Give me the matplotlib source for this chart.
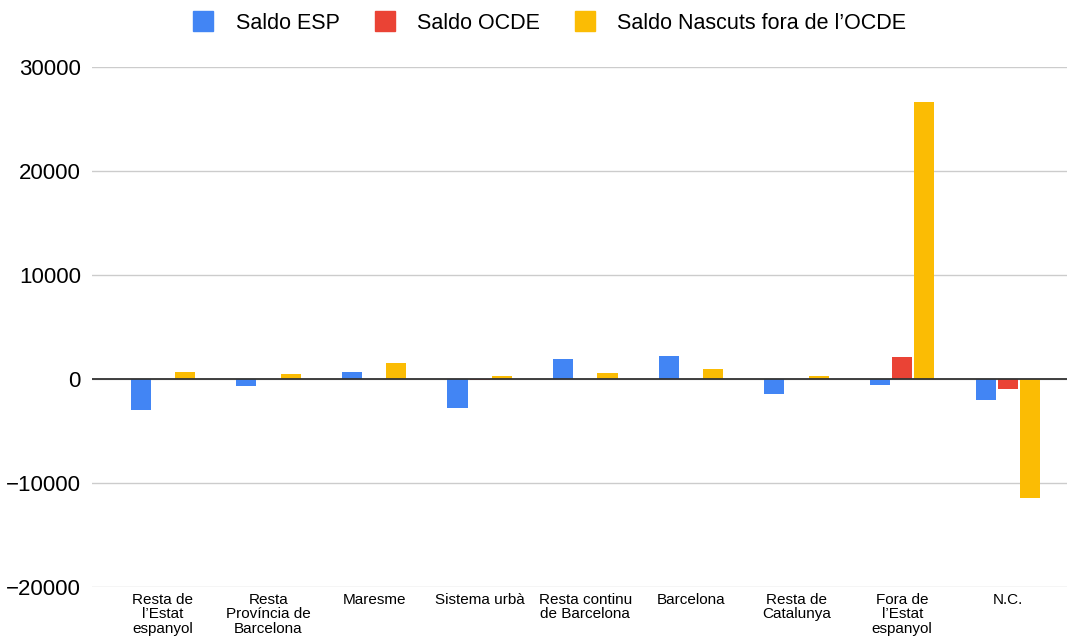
import numpy as np
import matplotlib
matplotlib.use('Agg')
import matplotlib.pyplot as plt
from matplotlib.lines import Line2D

plt.rcParams['font.family'] = ['Liberation Sans', 'DejaVu Sans']

# data
categories = ['Resta de\nl’Estat\nespanyol', 'Resta\nProvíncia de\nBarcelona', 'Maresme',
              'Sistema urbà', 'Resta continu\nde Barcelona', 'Barcelona',
              'Resta de\nCatalunya', 'Fora de\nl’Estat\nespanyol', 'N.C.']
saldo_esp = [-3000, -650, 650, -2800, 1900, 2200, -1400, -600, -2000]
saldo_ocde = [0, 0, 0, -120, 0, 0, 0, 2100, -1000]
saldo_nasc = [650, 450, 1550, 250, 600, 950, 250, 26600, -11400]
series_names = ['Saldo ESP', 'Saldo OCDE', 'Saldo Nascuts fora de l’OCDE']
colors = ['#4285F4', '#EA4335', '#FBBC04']

fig = plt.figure(figsize=(10.67, 6.41), dpi=100)
ax = fig.add_axes([0.0862, 0.0842, 0.9138, 0.8113])

x = np.arange(len(categories))
w = 0.19
step = 0.21
for i, (vals, c) in enumerate(zip([saldo_esp, saldo_ocde, saldo_nasc], colors)):
    ax.bar(x + (i - 1) * step, vals, width=w, color=c, zorder=3)

ax.set_xlim(-0.67, 8.56)
ax.set_ylim(-20000, 30000)
ax.set_yticks([-20000, -10000, 0, 10000, 20000, 30000])
ax.tick_params(axis='y', labelsize=16, length=0, pad=8)
ax.set_xticks(x)
ax.set_xticklabels(categories, fontsize=11, linespacing=1.08, va='top')
ax.tick_params(axis='x', length=0, pad=4)
ax.grid(axis='y', color='#cccccc', linewidth=1, zorder=0)
ax.axhline(0, color='#333333', linewidth=1.3, zorder=4)
for s in ax.spines.values():
    s.set_visible(False)

handles = [Line2D([], [], marker='s', linestyle='none', markersize=15,
                  markerfacecolor=c, markeredgecolor=c) for c in colors]
fig.legend(handles, series_names, loc='upper center', bbox_to_anchor=(0.51, 1.01),
           ncol=3, frameon=False, fontsize=15.5, handletextpad=0.5, columnspacing=1.1)

fig.savefig('out.png', dpi=100)
